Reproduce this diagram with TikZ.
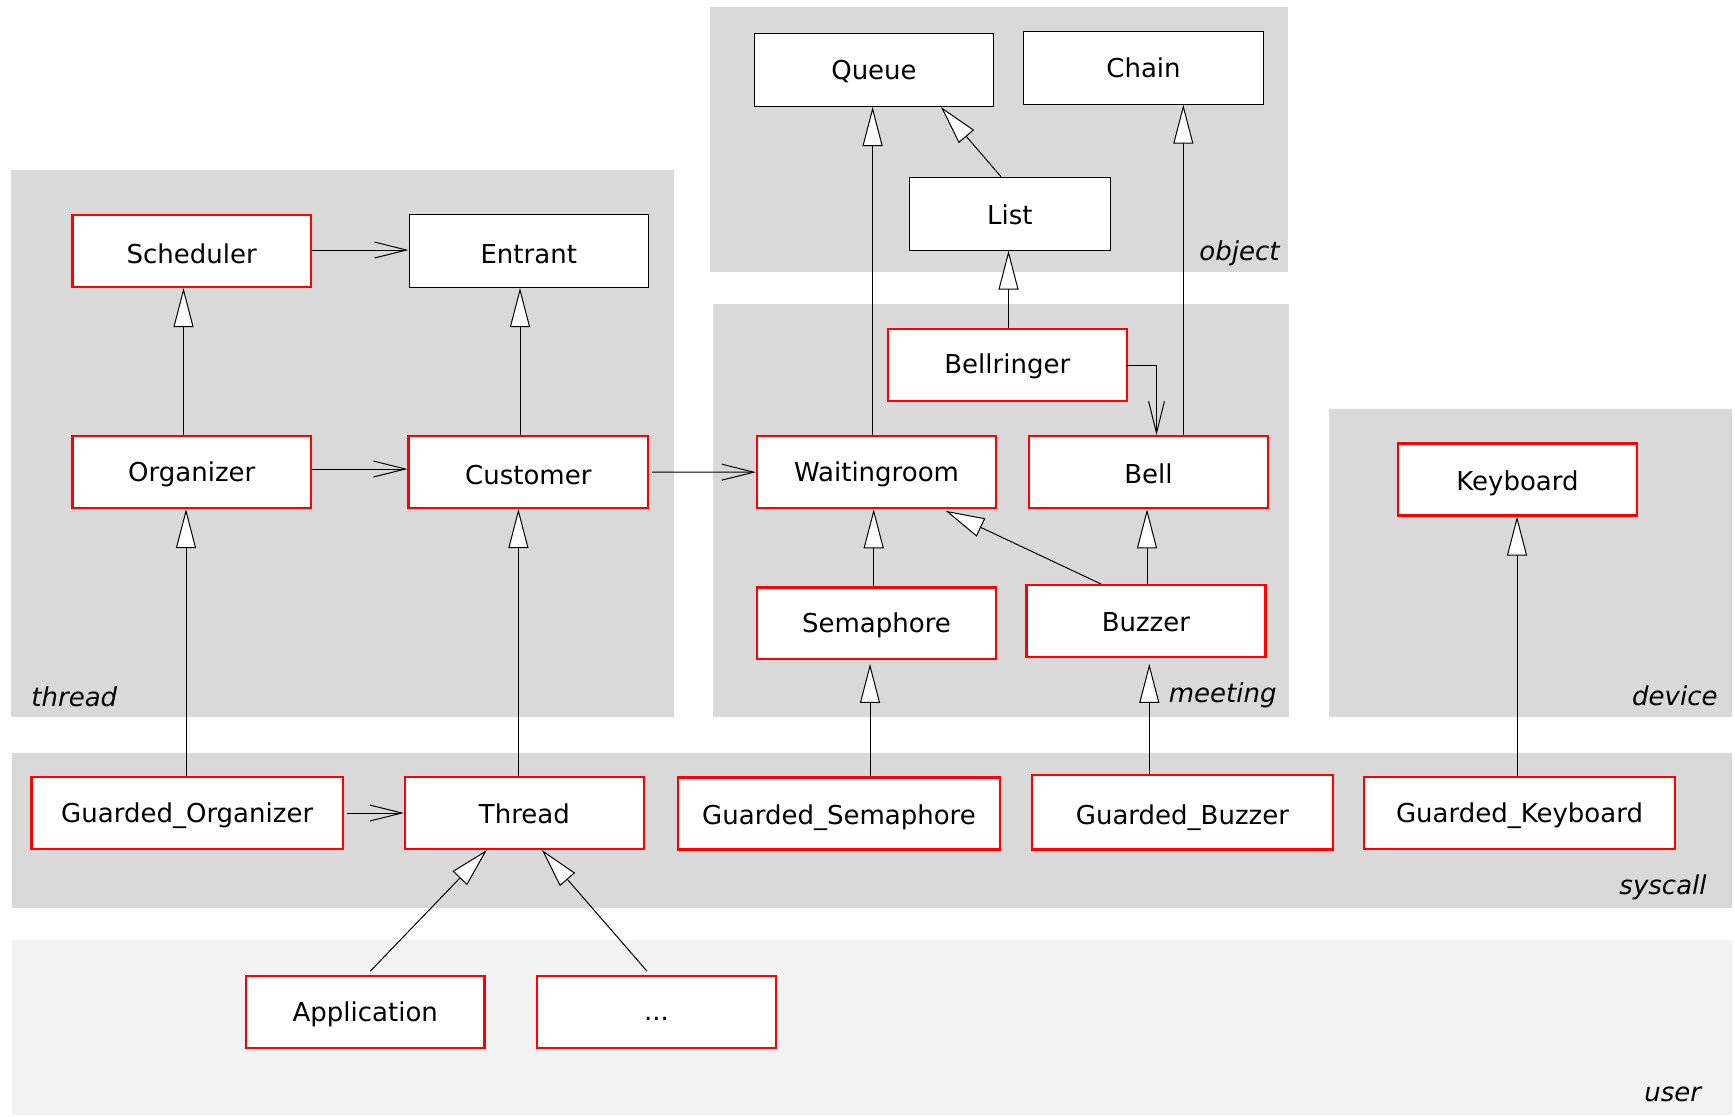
\documentclass[tikz,border=0pt]{standalone}
\usepackage{fontspec}
\setmainfont{DejaVu Sans}
\usetikzlibrary{arrows.meta}
\definecolor{panel}{HTML}{D9D9D9}
\definecolor{userpanel}{HTML}{F2F2F2}
\newcommand\dfont{\fontsize{13pt}{16pt}\selectfont}
\tikzset{
  every node/.append style={font=\dfont},
  cls/.style={draw=red, line width=1.15pt, fill=white, minimum height=35.9pt, inner sep=0pt, text depth=0pt},
  plain/.style={draw=black, line width=0.5pt, fill=white, minimum height=36.5pt, inner sep=0pt, text depth=0pt},
  bl/.style={text height=#1},
  pkg/.style={font=\dfont\itshape, inner sep=0pt},
  gen/.style={line width=0.5pt, -{Triangle[fill=white, length=19.5pt, width=10pt]}},
  assoc/.style={line width=0.5pt, -{Straight Barb[length=16pt, width=8pt]}},
}
\begin{document}
\begin{tikzpicture}[x=0.5pt, y=-0.5pt]
\useasboundingbox (0,0) rectangle (1735,1116);
% panels
\fill[panel] (11,170) rectangle (674,717);
\fill[panel] (710,7) rectangle (1288,272);
\fill[panel] (712.6,304) rectangle (1289.4,717);
\fill[panel] (1329,409) rectangle (1732,717);
\fill[panel] (11.5,752.5) rectangle (1732,908.3);
\fill[userpanel] (11.5,940) rectangle (1732,1115);
% panel labels
\node[pkg, anchor=base west] (lthread) at (31,706) {thread};
\node[pkg, anchor=base east] (lobject) at (1280,260.5) {object};
\node[pkg, anchor=base east] (lmeeting) at (1277,702.5) {meeting};
\node[pkg, anchor=base east] (ldevice) at (1718,705.5) {device};
\node[pkg, anchor=base east] (lsyscall) at (1707,894.5) {syscall};
\node[pkg, anchor=base east] (luser) at (1701.5,1101) {user};
% classes
\node[cls, bl=12pt, minimum width=119.25pt] (sched) at (191.75,251) {Scheduler};
\node[plain, bl=12pt, minimum width=119.75pt] (entrant) at (528.75,251) {Entrant};
\node[cls, bl=9.5pt, minimum width=119.25pt] (org) at (191.75,472) {Organizer};
\node[cls, bl=12pt, minimum width=119.7pt] (cust) at (528.3,472) {Customer};
\node[plain, bl=9.5pt, minimum width=119.85pt] (queue) at (874,70) {Queue};
\node[plain, bl=9.5pt, minimum width=119.65pt] (chain) at (1143.5,67.7) {Chain};
\node[plain, bl=11pt, minimum width=100.3pt] (list) at (1009.8,213.7) {List};
\node[cls, bl=8.5pt, minimum width=119.5pt] (bellr) at (1007.3,365) {Bellringer};
\node[cls, bl=9pt, minimum width=119.5pt] (wait) at (876.5,472.2) {Waitingroom};
\node[cls, bl=11.5pt, minimum width=119.5pt] (bell) at (1148.5,472.2) {Bell};
\node[cls, bl=9pt, minimum width=119.5pt] (sema) at (876.5,623.3) {Semaphore};
\node[cls, bl=11pt, minimum width=119.5pt] (buzz) at (1145.9,620.9) {Buzzer};
\node[cls, bl=10.5pt, minimum width=119.5pt] (kbd) at (1517.5,479.5) {Keyboard};
\node[cls, bl=9.5pt, minimum width=155.75pt] (gorg) at (187.2,813) {Guarded\_Organizer};
\node[cls, bl=10.3pt, minimum width=119.35pt] (thread) at (524.4,813) {Thread};
\node[cls, bl=10.5pt, minimum width=161.25pt] (gsema) at (839,813.5) {Guarded\_Semaphore};
\node[cls, bl=12pt, minimum width=150.6pt, minimum height=37.2pt] (gbuzz) at (1182.4,812.2) {Guarded\_Buzzer};
\node[cls, bl=10pt, minimum width=155.8pt] (gkey) at (1519.5,812.9) {Guarded\_Keyboard};
\node[cls, bl=10pt, minimum width=119.3pt] (app) at (365.3,1011.9) {Application};
\node[cls, bl=9pt, minimum width=119.3pt] (dots) at (656.4,1011.9) {...};
% generalizations
\draw[gen] ([xshift=-4.125pt]org.north) -- ([xshift=-4.125pt]org.north |- sched.south);
\draw[gen] ([xshift=-4.15pt]cust.north) -- ([xshift=-4.15pt]cust.north |- entrant.south);
\draw[gen] ([xshift=-0.6pt]gorg.north) -- ([xshift=-0.6pt]gorg.north |- org.south);
\draw[gen] ([xshift=-3pt]thread.north) -- ([xshift=-3pt]thread.north |- cust.south);
\draw[gen] ([xshift=-1.95pt]wait.north) -- ([xshift=-1.95pt]wait.north |- queue.south);
\draw[gen] ([xshift=-4.4pt]list.north) -- ([xshift=33.5pt]queue.south);
\draw[gen] ([xshift=17.4pt]bell.north) -- ([xshift=17.4pt]bell.north |- chain.south);
\draw[gen] ([xshift=0.6pt]bellr.north) -- ([xshift=0.6pt]bellr.north |- list.south);
\draw[gen] ([xshift=-1.4pt]sema.north) -- ([xshift=-1.4pt]sema.north |- wait.south);
\draw[gen] ([xshift=-22.6pt]buzz.north) -- ([xshift=34.6pt,yshift=-0.8pt]wait.south);
\draw[gen] ([xshift=0.55pt]buzz.north) -- ([xshift=0.55pt]buzz.north |- bell.south);
\draw[gen] ([xshift=15.5pt]gsema.north) -- ([xshift=15.5pt,yshift=-1.8pt]gsema.north |- sema.south);
\draw[gen] ([xshift=-16.55pt]gbuzz.north) -- ([xshift=-16.55pt,yshift=-3pt]gbuzz.north |- buzz.south);
\draw[gen] ([xshift=-1.25pt]gkey.north) -- ([xshift=-1.25pt]gkey.north |- kbd.south);
\draw[gen] ([xshift=2.5pt,yshift=1.85pt]app.north) -- ([xshift=-18.8pt]thread.south);
\draw[gen] ([xshift=-4.7pt,yshift=1.85pt]dots.north) -- ([xshift=8.8pt]thread.south);
% associations
\draw[assoc] ([yshift=0.5pt]sched.east) -- ([yshift=0.5pt]entrant.west);
\draw[assoc] ([yshift=1.5pt]org.east) -- ([yshift=1.5pt]cust.west);
\draw[assoc] ([xshift=1.5pt]cust.east) -- (wait.west);
\draw[assoc] ([xshift=1.5pt]gorg.east) -- (thread.west);
\draw[assoc] ([xshift=-1pt]bellr.east) -| ([xshift=4pt]bell.north);
\end{tikzpicture}
\end{document}
